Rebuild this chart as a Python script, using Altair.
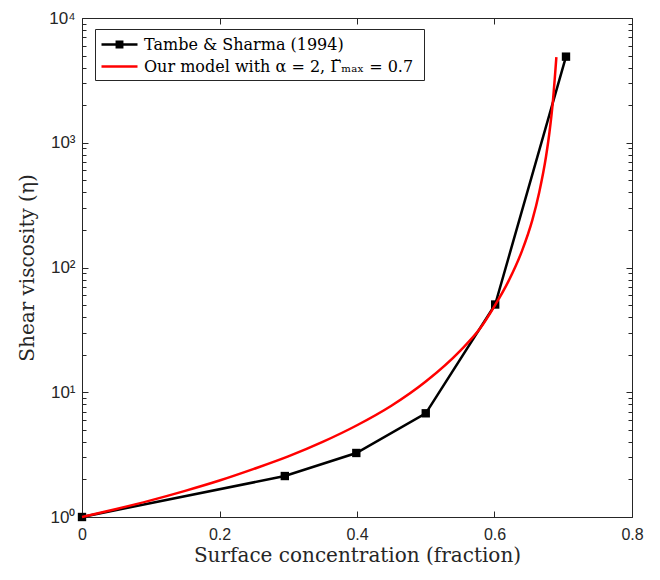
import altair as alt
import pandas as pd

# Experimental data (Tambe & Sharma 1994)
exp_x = [0.0, 0.295, 0.399, 0.500, 0.601, 0.704]
exp_y = [1.0, 2.13, 3.26, 6.78, 50.5, 4900.0]

# Model curve, values
model_x = [0.0, 0.05, 0.10, 0.15, 0.20, 0.25, 0.30, 0.35, 0.40, 0.45, 0.50,
           0.55, 0.58, 0.60, 0.62, 0.64, 0.655, 0.665, 0.675, 0.68, 0.685, 0.69]
model_y = [1.0, 1.16, 1.36, 1.62, 1.96, 2.43, 3.06, 4.0, 5.44, 7.8, 12.2,
           21.5, 33.0, 49.0, 77.0, 136.0, 240.0, 400.0, 780.0, 1220.0, 2170.0, 4850.0]

series_names = ["Tambe & Sharma (1994)", "Our model with α = 2,  Γ̃ₘₐₓ = 0.7"]

x_major = [0, 0.2, 0.4, 0.6, 0.8]
y_major = [1, 10, 100, 1000, 10000]
y_minor = [m * 10 ** k for k in range(4) for m in range(2, 10)]

exp_df = pd.DataFrame({"x": exp_x, "y": exp_y})
model_df = pd.DataFrame({"x": model_x, "y": model_y})
legend_df = pd.DataFrame({"series": series_names, "x": [0.0, 0.0], "y": [1.0, 1.0]})

W, H = 550, 499
AX = "#262626"
SERIF = "DejaVu Serif"
xscale = alt.Scale(domain=[0, 0.8], nice=False, zero=False)
yscale = alt.Scale(type="log", domain=[1, 10000], nice=False)


def tick_axis(orient, offset, values, size):
    return alt.Axis(orient=orient, offset=offset, values=values, tickSize=size,
                    labels=False, domain=False, grid=False, title=None,
                    ticks=True, tickColor=AX, tickWidth=1)


black_line = alt.Chart(exp_df).mark_line(color="black", strokeWidth=2.5).encode(
    x=alt.X("x:Q", scale=xscale, axis=None),
    y=alt.Y("y:Q", scale=yscale, axis=None),
)
black_pts = alt.Chart(exp_df).mark_square(color="black", size=70, opacity=1).encode(
    x=alt.X("x:Q", scale=xscale, axis=None),
    y=alt.Y("y:Q", scale=yscale, axis=None),
)

y_label_expr = ("datum.value == 1 ? '10⁰' : datum.value == 10 ? '10¹' : "
                "datum.value == 100 ? '10²' : datum.value == 1000 ? '10³' : '10⁴'")

red_line = alt.Chart(model_df).mark_line(color="#ff0000", strokeWidth=2.5,
                                         interpolate="monotone").encode(
    x=alt.X("x:Q", scale=xscale,
            axis=alt.Axis(orient="bottom", values=x_major, format="~g", tickSize=0,
                          domain=False, grid=False, labelPadding=9, labelFlush=False,
                          labelFont="Liberation Sans", labelFontSize=16, labelColor=AX,
                          title="Surface concentration (fraction)",
                          titleFont=SERIF, titleFontSize=20,
                          titleFontWeight="normal", titleColor=AX, titlePadding=3)),
    y=alt.Y("y:Q", scale=yscale,
            axis=alt.Axis(orient="left", values=y_major, labelExpr=y_label_expr,
                          tickSize=0, domain=False, grid=False, labelPadding=7,
                          labelFlush=False,
                          labelFont="Liberation Sans", labelFontSize=17, labelColor=AX,
                          title="Shear viscosity (η)",
                          titleFont=SERIF, titleFontSize=20,
                          titleFontWeight="normal", titleColor=AX, titlePadding=11)),
)


def ghost(xaxis, yaxis):
    return alt.Chart(model_df).mark_line(opacity=0).encode(
        x=alt.X("x:Q", scale=xscale, axis=xaxis),
        y=alt.Y("y:Q", scale=yscale, axis=yaxis),
    )


t1 = ghost(tick_axis("top", -H, x_major, 6), tick_axis("right", -W, y_major, 6))
t2 = ghost(tick_axis("bottom", -H, x_major, 6), tick_axis("right", -W, y_minor, 4))
t3 = ghost(None, tick_axis("left", -W, y_major, 6))
t4 = ghost(None, tick_axis("left", -W, y_minor, 4))

legend_layer = alt.Chart(legend_df).mark_point(filled=False, opacity=0).encode(
    x=alt.X("x:Q", scale=xscale, axis=None),
    y=alt.Y("y:Q", scale=yscale, axis=None),
    stroke=alt.Stroke("series:N", scale=alt.Scale(domain=series_names, range=["black", "#ff0000"]),
                      legend=alt.Legend(title=None)),
    fill=alt.Fill("series:N", scale=alt.Scale(domain=series_names, range=["black", "black"]),
                  legend=alt.Legend(title=None)),
    shape=alt.Shape("series:N", scale=alt.Scale(domain=series_names,
                                                range=["M-1,0H3M0.7,-0.3H1.3V0.3H0.7Z", "M-1,0H3"]),
                    legend=alt.Legend(title=None)),
)

chart = alt.layer(black_line, black_pts, red_line, t1, t2, t3, t4, legend_layer).resolve_axis(
    x="independent", y="independent"
).properties(
    width=W, height=H,
    autosize=alt.AutoSizeParams(type="none"),
    padding={"left": 74, "top": 10, "right": 20, "bottom": 55},
).configure_view(
    stroke=AX, strokeWidth=1
).configure_legend(
    orient="none", legendX=13, legendY=11,
    strokeColor=AX, fillColor="white", padding=5, cornerRadius=0,
    labelFont=SERIF, labelFontSize=16, labelColor="black",
    symbolSize=324, symbolStrokeWidth=2.5, symbolOpacity=1,
    rowPadding=3, labelOffset=23, labelLimit=0,
)

chart.save("out.html", embed_options={"renderer": "svg", "actions": False})
